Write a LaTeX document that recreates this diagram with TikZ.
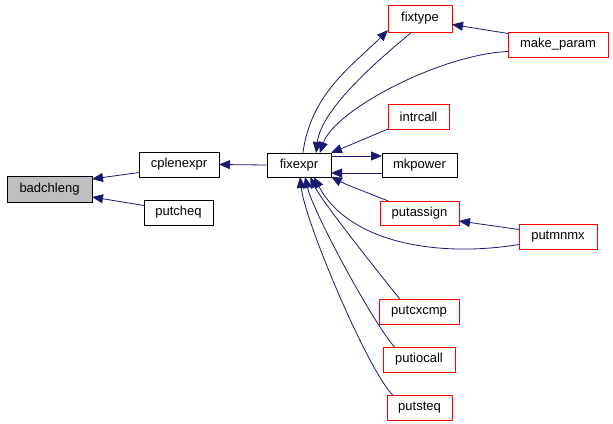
\documentclass[tikz,border=0pt]{standalone}
\usepackage{fontspec}
\setmainfont{Liberation Sans}
\usepackage{tikz}
\usetikzlibrary{arrows.meta}
\definecolor{midnightblue}{HTML}{191970}
\definecolor{nodegray}{HTML}{BFBFBF}
\tikzset{
	graystyle/.style={rectangle,draw=black,fill=nodegray,line width=1pt,inner sep=0,outer sep=0,minimum height=26pt},
	blackstyle/.style={rectangle,draw=black,fill=white,line width=1pt,inner sep=0,outer sep=0,minimum height=25pt},
	redstyle/.style={rectangle,draw=red,fill=white,line width=1pt,inner sep=0,outer sep=0,minimum height=25pt},
	edgestyle/.style={draw=midnightblue,line width=0.8pt,-{Triangle[length=11pt,width=9pt]}}
}
\begin{document}
\begin{tikzpicture}[x=1pt,y=-1pt]
	\fontsize{13}{15}\selectfont
	\useasboundingbox (0,0) rectangle (613,423);
	\node[graystyle,minimum width=85] (badchleng) at (49.5,189) {badchleng};
	\node[blackstyle,minimum width=80] (cplenexpr) at (179,164.5) {cplenexpr};
	\node[blackstyle,minimum width=69] (putcheq) at (178.5,212.5) {putcheq};
	\draw[edgestyle] ([yshift=-8pt]cplenexpr.west)--([yshift=10pt]badchleng.east);
	\draw[edgestyle] ([yshift=7pt]putcheq.west)--([yshift=-8pt]badchleng.east);
	\node[blackstyle,minimum width=64,minimum height=24] (fixexpr) at (299,165) {fixexpr};
	\draw[edgestyle] (fixexpr.west)--(cplenexpr.east);
	\node[redstyle,minimum width=64,minimum height=27] (fixtype) at (420,18.5) {fixtype};
	\node[redstyle,minimum width=100] (makeparam) at (558,44.5) {make\_param};
	\draw[edgestyle] (fixexpr.72) .. controls +(8,-60) and +(-35,35) .. (fixtype.-160);
	\draw[edgestyle] (fixtype.-121) .. controls +(-30,25) and +(5,-45) .. (fixexpr.35);
	\draw[edgestyle] ([yshift=11pt]makeparam.west)--([yshift=-6pt]fixtype.east);
	\draw[edgestyle] ([yshift=-7pt]makeparam.west) .. controls +(-68,3) and +(15,-43) .. (fixexpr.30);
	\node[redstyle,minimum width=61] (intrcall) at (418.5,116.5) {intrcall};
	\draw[edgestyle] (intrcall.south west)--(fixexpr.north east);
	\node[blackstyle,minimum width=75,minimum height=24] (mkpower) at (419.5,165) {mkpower};
	\draw[edgestyle] ([yshift=9pt]fixexpr.east)--([yshift=9pt]mkpower.west);
	\draw[edgestyle] ([yshift=-8pt]mkpower.west)--([yshift=-8pt]fixexpr.east);
	\node[redstyle,minimum width=79,minimum height=24] (putassign) at (419.5,213) {putassign};
	\draw[edgestyle] (putassign.159) .. controls +(-20,-8) and +(15,8) .. (fixexpr.-20);
	\node[redstyle,minimum width=78] (putmnmx) at (558,236.5) {putmnmx};
	\draw[edgestyle] ([yshift=7pt]putmnmx.west)--([yshift=-8pt]putassign.east);
	\draw[edgestyle] ([yshift=-8pt]putmnmx.west) .. controls +(-79,13) and +(36,67) .. (fixexpr.-39);
	\node[redstyle,minimum width=80] (putcxcmp) at (419,311.5) {putcxcmp};
	\draw[edgestyle] (putcxcmp.147) .. controls +(-20,-25) and +(12,25) .. (fixexpr.-47);
	\node[redstyle,minimum width=72] (putiocall) at (419,359.5) {putiocall};
	\draw[edgestyle] (putiocall.153) .. controls +(-22,-25) and +(8,35) .. (fixexpr.-63);
	\node[redstyle,minimum width=65] (putsteq) at (419.5,407.5) {putsteq};
	\draw[edgestyle] (putsteq.155) .. controls +(-25,-25) and +(5,45) .. (fixexpr.-85);
\end{tikzpicture}
\end{document}
